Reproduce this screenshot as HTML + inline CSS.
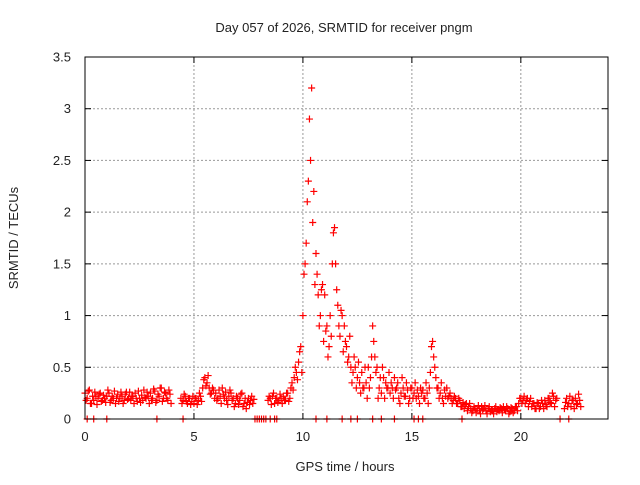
<!DOCTYPE html>
<html><head><meta charset="utf-8"><style>
body{margin:0;background:#fff}
svg text{font-family:"Liberation Sans",sans-serif;font-size:13px;fill:#222}
</style></head><body>
<svg id="chart" width="640" height="480" xmlns="http://www.w3.org/2000/svg">
<rect width="640" height="480" fill="#fff"/>
<text x="344" y="32" text-anchor="middle">Day 057 of 2026, SRMTID for receiver pngm</text>
<text x="345" y="471" text-anchor="middle">GPS time / hours</text>
<text transform="translate(18,238) rotate(-90)" text-anchor="middle">SRMTID / TECUs</text>
<g id="grid"></g>
<g id="ticks"></g>
<g id="marks"></g>
<rect x="85" y="57" width="523" height="362" fill="none" stroke="#000"/>
</svg>
<script>
const xTicks=[0,5,10,15,20];
const yTicks=[0,0.5,1,1.5,2,2.5,3,3.5];
const yTickLabels=["0","0.5","1","1.5","2","2.5","3","3.5"];
const values=[
0.25,0.2,0.28,0.15,0.18,0.22,0.2,0.25,0.18,0.2,
0.22,0.25,0.18,0.2,0.15,0.24,0.2,0.22,0.18,0.26,
0.2,0.18,0.22,0.25,0.17,0.2,0.23,0.28,0.2,0.22,
0.25,0.2,0.27,0.18,0.22,0.3,0.2,0.25,0.18,0.24,
null,null,null,null,0.2,0.18,0.22,0.15,0.2,0.17,
0.15,0.2,0.18,0.22,0.3,0.4,0.35,0.3,0.25,0.28,
0.25,0.2,0.22,0.3,0.2,0.18,0.22,0.25,0.2,0.15,
0.2,0.18,0.25,0.15,0.1,0.2,0.18,0.15,null,null,
null,null,null,null,0.18,0.2,0.22,0.15,0.2,0.18,
0.2,0.22,0.18,0.25,0.2,0.35,0.4,0.45,0.55,0.7,
1.0,1.5,2.1,2.9,3.2,2.2,1.6,1.2,1.0,1.3,
1.2,0.9,0.7,0.8,1.8,1.5,1.1,0.8,1.0,0.9,
0.7,0.6,0.5,0.45,0.5,0.4,0.35,0.45,0.3,0.35,
0.5,0.4,0.9,0.6,0.5,0.3,0.25,0.4,0.35,0.3,
0.25,0.3,0.4,0.3,0.2,0.25,0.3,0.22,0.28,0.2,
0.3,0.25,0.2,0.22,0.3,0.28,0.2,0.25,0.3,0.7,
0.6,0.4,0.3,0.25,0.2,0.28,0.3,0.22,0.2,0.18,
0.2,0.15,0.18,0.12,0.1,0.15,0.12,0.1,0.08,0.1,
0.1,0.08,0.12,0.1,0.08,0.1,0.07,0.08,0.1,0.07,
0.08,0.1,0.12,0.08,0.1,0.07,0.1,0.08,0.12,0.15,
0.2,0.18,0.15,0.2,0.17,0.12,0.15,0.1,0.15,0.12,
0.15,0.18,0.12,0.2,0.15,0.22,0.18,null,null,null,
0.1,0.2,0.15,0.12,0.18,0.2,0.15,0.18,null,null];
const values2=[
0.18,0.27,0.15,0.22,0.26,0.14,0.24,0.17,0.23,0.16,
0.28,0.16,0.22,0.27,0.2,0.17,0.26,0.15,0.24,0.19,
0.26,0.22,0.15,0.2,0.27,0.16,0.18,0.21,0.26,0.15,
0.18,0.29,0.16,0.24,0.3,0.17,0.26,0.2,0.28,0.15,
null,null,null,null,0.15,0.24,0.17,0.2,0.14,0.22,
0.2,0.14,0.25,0.17,0.38,0.32,0.42,0.24,0.3,0.2,
0.18,0.28,0.15,0.24,0.26,0.14,0.28,0.18,0.12,0.22,
0.14,0.24,0.12,0.2,0.16,0.14,0.22,0.19,null,null,
null,null,null,null,0.22,0.14,0.25,0.2,0.16,0.24,
0.15,0.18,0.25,0.17,0.3,0.28,0.5,0.38,0.65,0.45,
1.4,1.7,2.3,2.5,1.9,1.3,1.4,0.9,1.25,0.75,
0.85,0.6,1.0,1.5,1.85,1.25,0.9,1.05,0.65,0.75,
0.55,0.8,0.35,0.6,0.3,0.55,0.25,0.3,0.5,0.2,
0.3,0.6,0.75,0.45,0.2,0.4,0.5,0.2,0.3,0.45,
0.35,0.2,0.28,0.35,0.15,0.4,0.22,0.35,0.15,0.3,
0.2,0.35,0.28,0.15,0.25,0.2,0.35,0.15,0.45,0.75,
0.5,0.3,0.2,0.35,0.15,0.22,0.2,0.25,0.15,0.22,
0.15,0.2,0.12,0.16,0.14,0.08,0.15,0.06,0.12,0.06,
0.13,0.05,0.09,0.13,0.05,0.12,0.09,0.05,0.12,0.09,
0.11,0.06,0.09,0.12,0.05,0.11,0.06,0.12,0.08,0.2,
0.15,0.22,0.18,0.12,0.2,0.15,0.1,0.16,0.1,0.18,
0.1,0.14,0.2,0.16,0.25,0.12,0.2,null,null,null,
0.16,0.12,0.22,0.18,0.1,0.14,0.24,0.12,null,null];
const timeStep=0.1;
const zeroTimes=[0.1,0.4,1.0,3.3,4.5,7.8,7.9,8.0,8.1,8.2,8.3,8.5,8.7,8.8,10.6,11.1,11.8,12.2,12.5,13.2,13.6,14.2,15.1,15.3,15.5,17.3,21.8,22.2];
const NS="http://www.w3.org/2000/svg";
const X=h=>85+h*523/24, Y=v=>419-v*362/3.5;
function mk(t,a,p){const e=document.createElementNS(NS,t);for(const k in a)e.setAttribute(k,a[k]);p.appendChild(e);return e;}
const grid=document.getElementById('grid'),ticks=document.getElementById('ticks'),marks=document.getElementById('marks');
xTicks.forEach(t=>{const x=X(t);
 if(t>0){const l=mk('line',{x1:x,x2:x,y1:57,y2:419,stroke:'#999','stroke-dasharray':'2,2'},grid);}
 mk('line',{x1:x,x2:x,y1:419,y2:413,stroke:'#000'},ticks);mk('line',{x1:x,x2:x,y1:57,y2:63,stroke:'#000'},ticks);
 const tx=mk('text',{x:x,y:441,'text-anchor':'middle'},ticks);tx.textContent=t;
 });
yTicks.forEach((v,i)=>{const y=Y(v);
 if(i>0&&i<yTicks.length-1){const l=mk('line',{x1:85,x2:608,y1:y,y2:y,stroke:'#999','stroke-dasharray':'2,2'},grid);}
 mk('line',{x1:85,x2:91,y1:y,y2:y,stroke:'#000'},ticks);mk('line',{x1:608,x2:602,y1:y,y2:y,stroke:'#000'},ticks);
 const tx=mk('text',{x:71,y:y+4.5,'text-anchor':'end'},ticks);tx.textContent=yTickLabels[i];
 });
function plus(h,v){const x=X(h),y=Y(v);
 const p=mk('path',{d:`M${x-3.5},${y}h7M${x},${y-3.5}v7`,stroke:'#f00','stroke-width':1.2,fill:'none'},marks);
 }
values.forEach((v,i)=>{if(v!==null)plus(i*timeStep,v);});
values2.forEach((v,i)=>{if(v!==null)plus(i*timeStep+0.05,v);});
zeroTimes.forEach(t=>plus(t,0));
</script>
</body></html>
